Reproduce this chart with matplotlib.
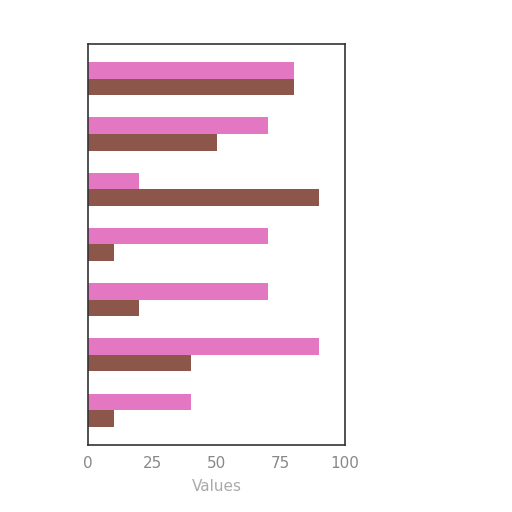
import numpy as np
import matplotlib.pyplot as plt

# values, top category first
categories = ['A', 'B', 'C', 'D', 'E', 'F', 'G']
series_pink = [80, 70, 20, 70, 70, 90, 40]
series_brown = [80, 50, 90, 10, 20, 40, 10]
x_ticks = [0, 25, 50, 75, 100]

fig = plt.figure(figsize=(5.12, 5.12), dpi=100)
ax = fig.add_axes([0.172, 0.131, 0.502, 0.783])

y = np.arange(len(categories))
h = 0.3
ax.barh(y - h / 2, series_pink, height=h, color='#e377c2')
ax.barh(y + h / 2, series_brown, height=h, color='#8c564b')
ax.invert_yaxis()

ax.set_xlim(0, 100)
ax.set_xticks(x_ticks)
ax.set_yticks([])
ax.tick_params(axis='x', length=0, pad=8, labelsize=11, labelcolor='#888888')
ax.set_xlabel("Values", color='#aaaaaa', fontsize=11, labelpad=6)
for s in ax.spines.values():
    s.set_color('#333333')
    s.set_linewidth(1.2)

fig.savefig('out.png', dpi=100)
